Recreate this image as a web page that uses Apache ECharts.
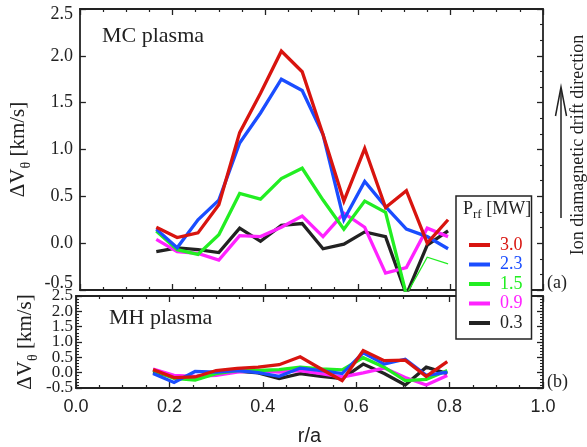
<!DOCTYPE html>
<html>
<head>
<meta charset="utf-8">
<script src="https://cdn.jsdelivr.net/npm/echarts@6/dist/echarts.min.js"></script>
<style>
  html, body { margin: 0; padding: 0; background: #fff; }
  #chart { width: 587px; height: 447px; }
</style>
</head>
<body>
<div id="chart"></div>
<script>
// Radial positions r/a of the measurement channels
const rA = [0.165, 0.210, 0.255, 0.300, 0.345, 0.390, 0.435, 0.480, 0.525, 0.570, 0.615, 0.660, 0.705, 0.750, 0.795];

// RF power levels (MW), legend order
const powerLabels = ['3.0', '2.3', '1.5', '0.9', '0.3'];
const powerColors = ['#d8140f', '#1a4dff', '#22ee22', '#ff22ff', '#222222'];

// Poloidal rotation change, MC plasma (km/s)
const mc30 = [0.17, 0.06, 0.11, 0.41, 1.18, 1.60, 2.05, 1.83, 1.16, 0.45, 1.01, 0.38, 0.56, 0.00, 0.25];
const mc23 = [0.15, -0.05, 0.25, 0.46, 1.07, 1.39, 1.75, 1.63, 1.16, 0.25, 0.66, 0.39, 0.15, 0.07, -0.06];
const mc15 = [0.13, -0.07, -0.12, 0.09, 0.53, 0.47, 0.69, 0.80, 0.46, 0.15, 0.45, 0.33, -0.55, -0.15, -0.22];
const mc09 = [0.04, -0.09, -0.11, -0.18, 0.08, 0.07, 0.17, 0.29, 0.07, 0.32, 0.17, -0.32, -0.26, 0.16, 0.07];
const mc03 = [-0.09, -0.05, -0.07, -0.10, 0.16, 0.02, 0.19, 0.21, -0.06, -0.01, 0.12, 0.07, -0.55, -0.02, 0.13];
// the 1.5 MW profile is drawn thin beyond this channel
const mc15ThinFrom = 12;

// Poloidal rotation change, MH plasma (km/s)
const mh30 = [0.10, -0.16, -0.14, 0.07, 0.14, 0.18, 0.26, 0.52, 0.12, -0.26, 0.72, 0.39, 0.41, -0.12, 0.36];
const mh23 = [-0.03, -0.32, 0.04, 0.02, 0.07, 0.00, -0.12, 0.15, 0.07, -0.03, 0.65, 0.28, 0.44, -0.09, 0.02];
const mh15 = [0.07, -0.19, -0.24, -0.03, 0.07, 0.07, 0.10, 0.18, 0.12, 0.09, 0.49, 0.18, -0.26, -0.22, 0.07];
const mh09 = [0.12, -0.09, -0.12, -0.09, 0.02, 0.07, 0.02, 0.07, -0.03, -0.14, -0.01, 0.15, -0.16, -0.40, -0.09];
const mh03 = [0.02, -0.14, -0.14, -0.01, 0.05, -0.01, -0.19, -0.03, -0.12, -0.19, 0.28, -0.03, -0.40, 0.18, -0.03];

// Axis ticks
const xTicks = { min: 0, max: 1, interval: 0.2 };
const yTicks = { min: -0.5, max: 2.5, interval: 0.5 };
// lower panel tick labels, split over two label rows so the tight spacing keeps all of them
const mhLabelsA = [0.0, 1.0, 2.0];
const mhLabelsB = [-0.5, 0.5, 1.5, 2.5];

const serif = 'Liberation Serif';
const sans = 'Liberation Sans';
const ink = '#222222';

const pairs = (arr) => rA.map((x, i) => [x, arr[i]]);

function lineSeries(name, color, arr, gridIdx, width) {
  return {
    type: 'line', name: name,
    xAxisIndex: gridIdx * 2, yAxisIndex: gridIdx * 2,
    data: pairs(arr),
    showSymbol: false, symbol: 'none',
    lineStyle: { color: color, width: width || 3.3, join: 'miter' },
    itemStyle: { color: color },
    clip: true,
    animation: false
  };
}

const mcSets = [mc03, mc09, mc15, mc23, mc30];
const mhSets = [mh03, mh09, mh15, mh23, mh30];
const drawOrder = [4, 3, 2, 1, 0]; // indices into powerLabels, black first, red last

const series = [];
drawOrder.forEach((pi, k) => {
  const arr = mcSets[k];
  if (powerLabels[pi] === '1.5') {
    const thick = arr.map((v, i) => (i <= mc15ThinFrom ? v : null));
    series.push(lineSeries(powerLabels[pi], powerColors[pi], thick, 0));
  } else {
    series.push(lineSeries(powerLabels[pi], powerColors[pi], arr, 0));
  }
});
drawOrder.forEach((pi, k) => {
  series.push(lineSeries(powerLabels[pi], powerColors[pi], mhSets[k], 1));
});
// thin tail of the 1.5 MW MC profile
series.push(lineSeries('1.5', powerColors[2],
  mc15.map((v, i) => (i >= mc15ThinFrom ? v : null)), 0, 1.3));

const axisLine = { show: true, onZero: false, lineStyle: { color: ink, width: 1.8 } };

function xAxisPair(gridIdx, showLabels) {
  const base = {
    type: 'value', gridIndex: gridIdx,
    min: xTicks.min, max: xTicks.max, interval: xTicks.interval,
    axisLine: axisLine,
    axisTick: { show: true, inside: true, length: 6, lineStyle: { color: ink, width: 1.3 } },
    minorTick: { show: true, splitNumber: 4, length: 3, lineStyle: { color: ink, width: 1.2 } },
    splitLine: { show: false }, minorSplitLine: { show: false }
  };
  const bottom = Object.assign({}, base, {
    position: 'bottom',
    axisLabel: showLabels ? {
      show: true, margin: 10, fontFamily: sans, fontSize: 18, color: ink,
      showMinLabel: true, showMaxLabel: true,
      formatter: (v) => v.toFixed(1)
    } : { show: false }
  });
  if (showLabels) {
    Object.assign(bottom, {
      name: 'r/a', nameLocation: 'middle', nameGap: 38,
      nameTextStyle: { fontFamily: sans, fontSize: 20, color: ink }
    });
  }
  const top = Object.assign({}, base, { position: 'top', axisLabel: { show: false } });
  return [bottom, top];
}

const yName = '{m|ΔV}{s|θ}{m| [km/s]}';
const yNameStyle = {
  color: ink,
  rich: {
    m: { fontFamily: serif, fontSize: 21, lineHeight: 30, color: ink },
    s: { fontFamily: serif, fontSize: 14, verticalAlign: 'bottom', color: ink }
  }
};

function yAxisPair(gridIdx, opts) {
  const base = {
    type: 'value', gridIndex: gridIdx,
    min: yTicks.min, max: yTicks.max, interval: yTicks.interval,
    axisLine: axisLine,
    splitLine: { show: false }, minorSplitLine: { show: false }
  };
  const label = Object.assign({
    show: true, margin: opts.labelMargin, fontFamily: serif, fontSize: opts.labelSize, color: ink,
    formatter: opts.labelFormatter,
    rich: opts.labelRich
  }, opts.labelExtra || {});
  const left = Object.assign({}, base, {
    position: 'left',
    name: yName, nameLocation: 'middle', nameRotate: 90, nameGap: opts.nameGap,
    nameTextStyle: yNameStyle,
    axisTick: { show: true, inside: true, length: 6, lineStyle: { color: ink, width: 1.3 } },
    minorTick: { show: opts.leftMinor, splitNumber: 5, length: 3, lineStyle: { color: ink, width: 1.1 } },
    axisLabel: label
  });
  const right = Object.assign({}, base, {
    position: 'right',
    axisTick: { show: true, inside: true, length: 6, lineStyle: { color: ink, width: 1.3 } },
    minorTick: { show: true, splitNumber: opts.rightSplit, length: 3, lineStyle: { color: ink, width: 1.1 } },
    axisLabel: { show: false }
  });
  return [left, right];
}

const topLabelRich = {
  n: { fontFamily: serif, fontSize: 18, color: ink },
  hi: { fontFamily: serif, fontSize: 18, color: ink, padding: [11, 0, 0, 0] },
  lo: { fontFamily: serif, fontSize: 18, color: ink, padding: [0, 0, 14, 0] }
};
const topLabelFormatter = (v) => {
  const t = v.toFixed(1);
  if (v >= yTicks.max) return '{hi|' + t + '}';
  if (v <= yTicks.min) return '{lo|' + t + '}';
  return '{n|' + t + '}';
};

const xAxes = [...xAxisPair(0, false), ...xAxisPair(1, true)];
const yAxes = [
  ...yAxisPair(0, { nameGap: 36, leftMinor: false, rightSplit: 3, labelMargin: 7, labelSize: 18,
                    labelFormatter: topLabelFormatter, labelRich: topLabelRich,
                    labelExtra: { showMinLabel: true, showMaxLabel: true } }),
  ...yAxisPair(1, { nameGap: 36, leftMinor: true, rightSplit: 5, labelMargin: 3, labelSize: 17,
                    labelFormatter: (v) => v.toFixed(1), labelRich: {},
                    labelExtra: { customValues: mhLabelsA } }),
  // second label row of the lower panel
  {
    type: 'value', gridIndex: 1, position: 'left', offset: 0,
    min: yTicks.min, max: yTicks.max, interval: yTicks.interval,
    axisLine: { show: false }, axisTick: { show: false },
    splitLine: { show: false },
    axisLabel: {
      show: true, margin: 3, fontFamily: serif, fontSize: 17, color: ink,
      customValues: mhLabelsB,
      formatter: (v) => v.toFixed(1)
    }
  }
];

const chart = echarts.init(document.getElementById('chart'), null, { renderer: 'canvas' });

chart.setOption({
  backgroundColor: '#ffffff',
  animation: false,
  grid: [
    { left: 76, top: 9, width: 467, height: 281 },
    { left: 76, top: 296, width: 467, height: 96 }
  ],
  xAxis: xAxes,
  yAxis: yAxes,
  legend: {
    orient: 'vertical',
    left: 456, top: 196,
    padding: [40, 9, 7, 13],
    itemWidth: 21, itemHeight: 4, itemGap: 1.5,
    icon: 'rect',
    selectedMode: false,
    backgroundColor: '#ffffff',
    borderColor: ink, borderWidth: 1.5, borderRadius: 0,
    textStyle: { fontFamily: serif, fontSize: 18, lineHeight: 18, padding: [0, 0, 0, 5] },
    data: powerLabels.map((name, i) => ({ name: name, textStyle: { color: powerColors[i] } }))
  },
  graphic: [
    {
      type: 'text', z: 100, x: 102, y: 25,
      style: { text: 'MC plasma', fontFamily: serif, fontSize: 22, fill: ink,
               textAlign: 'left', align: 'left', textVerticalAlign: 'top', verticalAlign: 'top' }
    },
    {
      type: 'text', z: 100, x: 109, y: 307,
      style: { text: 'MH plasma', fontFamily: serif, fontSize: 22, fill: ink,
               textAlign: 'left', align: 'left', textVerticalAlign: 'top', verticalAlign: 'top' }
    },
    {
      type: 'text', z: 100, x: 463, y: 197,
      style: {
        text: '{m|P}{s|rf}{m| [MW]}', fill: ink,
        textAlign: 'left', align: 'left', textVerticalAlign: 'top', verticalAlign: 'top',
        rich: {
          m: { fontFamily: serif, fontSize: 18, lineHeight: 24, fill: ink },
          s: { fontFamily: serif, fontSize: 13, verticalAlign: 'bottom', fill: ink }
        }
      }
    },
    {
      type: 'text', z: 100, x: 547, y: 283,
      style: { text: '(a)', fontFamily: serif, fontSize: 18, fill: ink,
               textAlign: 'left', align: 'left', textVerticalAlign: 'middle', verticalAlign: 'middle' }
    },
    {
      type: 'text', z: 100, x: 547, y: 382,
      style: { text: '(b)', fontFamily: serif, fontSize: 18, fill: ink,
               textAlign: 'left', align: 'left', textVerticalAlign: 'middle', verticalAlign: 'middle' }
    },
    {
      type: 'text', z: 100, x: 578, y: 145, rotation: Math.PI / 2,
      style: { text: 'Ion diamagnetic drift direction', fontFamily: serif, fontSize: 18, fill: ink,
               textAlign: 'center', align: 'center', textVerticalAlign: 'middle', verticalAlign: 'middle' }
    },
    // direction arrow
    {
      type: 'line', z: 100,
      shape: { x1: 561, y1: 218, x2: 561, y2: 88 },
      style: { stroke: ink, lineWidth: 1.5 }
    },
    {
      type: 'polyline', z: 100,
      shape: { points: [[555.5, 116], [561, 87], [566.5, 116]] },
      style: { stroke: ink, lineWidth: 1.5, fill: null }
    }
  ],
  series: series
});
</script>
</body>
</html>
